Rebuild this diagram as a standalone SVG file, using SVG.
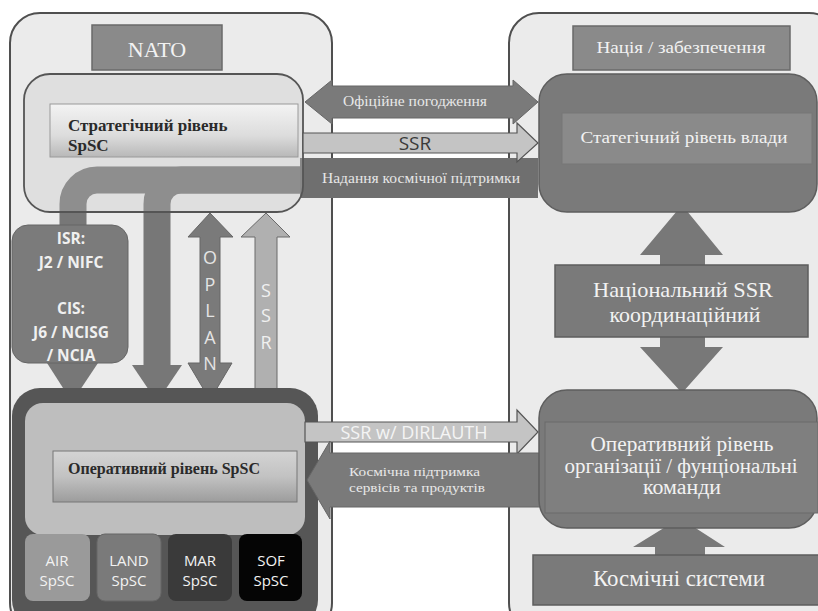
<svg xmlns="http://www.w3.org/2000/svg" width="818" height="611" viewBox="0 0 818 611">
<defs>
<linearGradient id="barLight" x1="0" y1="0" x2="0" y2="1">
<stop offset="0" stop-color="#f3f3f3"/><stop offset="0.6" stop-color="#dcdcdc"/><stop offset="1" stop-color="#b8b8b8"/>
</linearGradient>
<linearGradient id="barOp" x1="0" y1="0" x2="0" y2="1">
<stop offset="0" stop-color="#d4d4d4"/><stop offset="0.5" stop-color="#c2c2c2"/><stop offset="1" stop-color="#9c9c9c"/>
</linearGradient>
<style>
.panel{fill:#ebebeb;stroke:#4f4f4f;stroke-width:2}
.lbl{fill:#8a8a8a;stroke:#6a6a6a;stroke-width:1.5}
.dark{fill:#7a7a7a;stroke:#5e5e5e;stroke-width:1.5}
.arr{fill:#7a7a7a;stroke:#666;stroke-width:1}
.arrL{fill:#c4c4c4;stroke:#555;stroke-width:1.2}
.serif{font-family:"Liberation Serif","Times New Roman",serif}
.sans{font-family:"Open Sans","Liberation Sans",sans-serif}
.w{fill:#f2f2f2}
.k{fill:#2a2a2a}
</style>
</defs>
<rect width="818" height="611" fill="#ffffff"/>

<g id="panel-nato">
<rect class="panel" x="10" y="13" width="322" height="620" rx="30"/>
</g>
<g id="panel-nation">
<rect class="panel" x="509" y="13" width="330" height="620" rx="30"/>
</g>

<g id="nato-label">
<rect class="lbl" x="92" y="25" width="130" height="45"/>
<text class="serif w" x="157" y="57" font-size="22" text-anchor="middle">NATO</text>
</g>
<g id="nation-label">
<rect class="lbl" x="573" y="26" width="217" height="44"/>
<text class="serif w" x="681" y="53" font-size="16" text-anchor="middle" textLength="169" lengthAdjust="spacingAndGlyphs">Нація / забезпечення</text>
</g>

<g id="strategic-spsc-base">
<rect x="24" y="74" width="279" height="138" rx="26" fill="#dedede"/>
</g>

<g id="connectors">
<path d="M 303 180 H 97 A 24 24 0 0 0 73 204 V 366" fill="none" stroke="#777" stroke-width="27"/>
<polygon points="47,363 98,363 72,402" fill="#777"/>
<path d="M 303 180 H 181 A 24 24 0 0 0 157 204 V 366" fill="none" stroke="#777" stroke-width="27"/>
<polygon points="132,365 182,365 157,402" fill="#777"/>
<rect x="300" y="158" width="238" height="40" fill="#6f6f6f"/>
<text class="serif" fill="#e6e6e6" x="421" y="183" font-size="14" text-anchor="middle" textLength="198" lengthAdjust="spacingAndGlyphs">Надання космічної підтримки</text>
</g>

<g id="strategic-spsc">
<rect x="24" y="74" width="279" height="138" rx="26" fill="#e4e4e4" fill-opacity="0.22" stroke="#555" stroke-width="1.8"/>
<rect x="50" y="104" width="248" height="53" fill="url(#barLight)" stroke="#9a9a9a" stroke-width="1"/>
<text class="serif k" x="68" y="131" font-size="17" font-weight="bold">Стратегічний рівень</text>
<text class="serif k" x="68" y="151" font-size="17" font-weight="bold">SpSC</text>
</g>

<g id="connectors-top">
<polygon class="arr" points="305,102 332,80 332,86 513,86 513,80 538,102 513,124 513,118 332,118 332,124"/>
<text class="serif" fill="#e8e8e8" x="415" y="106" font-size="14" text-anchor="middle" textLength="144" lengthAdjust="spacingAndGlyphs">Офіційне погодження</text>
<polygon class="arrL" points="303,133 517,133 517,123 538,143 517,162 517,153 303,153"/>
<text class="sans" fill="#3a3a3a" x="415" y="150" font-size="19" text-anchor="middle">SSR</text>
</g>

<g id="opplan-ssr-arrows">
<polygon class="arr" points="210,213 233,237 220,237 220,363 232,363 210,400 188,363 200,363 200,237 188,237"/>
<g class="sans" fill="#e4e4e4" font-size="18" text-anchor="middle">
<text x="210" y="264">O</text>
<text x="210" y="291">P</text>
<text x="210" y="317">L</text>
<text x="210" y="344">A</text>
<text x="210" y="370">N</text>
</g>
<polygon points="266,213 290,237 277,237 277,404 255,404 255,237 241,237" fill="#b0b0b0" stroke="#6a6a6a" stroke-width="1"/>
<g class="sans" fill="#f0f0f0" font-size="18" text-anchor="middle">
<text x="266" y="297">S</text>
<text x="266" y="322">S</text>
<text x="266" y="349">R</text>
</g>
</g>

<g id="isr-cis">
<rect x="12" y="225" width="116" height="138" rx="16" fill="#7b7b7b" stroke="#666" stroke-width="1"/>
<g class="sans" fill="#f0f0f0" font-size="15.5" font-weight="bold" text-anchor="middle">
<text x="71" y="244">ISR:</text>
<text x="71" y="268">J2 / NIFC</text>
<text x="71" y="314">CIS:</text>
<text x="71" y="338">J6 / NCISG</text>
<text x="71" y="361">/ NCIA</text>
</g>
</g>

<g id="operational-spsc">
<rect x="12" y="388" width="306" height="240" rx="28" fill="#565656"/>
<rect x="25" y="403" width="280" height="132" rx="18" fill="#bebebe"/>
<rect x="53" y="451" width="244" height="51" fill="url(#barOp)" stroke="#777" stroke-width="1"/>
<text class="serif k" x="164" y="474" font-size="16" font-weight="bold" text-anchor="middle" textLength="192" lengthAdjust="spacingAndGlyphs">Оперативний рівень SpSC</text>
</g>
<g id="air-spsc">
<rect x="25" y="534" width="65" height="67" rx="8" fill="#9a9a9a"/>
<text class="sans w" x="57" y="566" font-size="15" text-anchor="middle">AIR</text>
<text class="sans w" x="57" y="586" font-size="15" text-anchor="middle">SpSC</text>
</g>
<g id="land-spsc">
<rect x="97" y="534" width="64" height="67" rx="8" fill="#7a7a7a" stroke="#666" stroke-width="1"/>
<text class="sans w" x="129" y="566" font-size="15" text-anchor="middle">LAND</text>
<text class="sans w" x="129" y="586" font-size="15" text-anchor="middle">SpSC</text>
</g>
<g id="mar-spsc">
<rect x="168" y="534" width="64" height="67" rx="8" fill="#3a3a3a"/>
<text class="sans w" x="200" y="566" font-size="15" text-anchor="middle">MAR</text>
<text class="sans w" x="200" y="586" font-size="15" text-anchor="middle">SpSC</text>
</g>
<g id="sof-spsc">
<rect x="239" y="534" width="63" height="67" rx="8" fill="#050505"/>
<text class="sans w" x="271" y="566" font-size="15" text-anchor="middle">SOF</text>
<text class="sans w" x="271" y="586" font-size="15" text-anchor="middle">SpSC</text>
</g>

<g id="connectors-bottom">
<polygon class="arrL" points="305,422 517,422 517,410 538,432 517,454 517,442 305,442" fill="#c0c0c0"/>
<text class="sans" fill="#f4f4f4" x="414" y="439" font-size="18" text-anchor="middle">SSR w/ DIRLAUTH</text>
<polygon class="arr" points="307,480 330,441 330,453 540,453 540,507 330,507 330,519"/>
<text class="serif" fill="#e8e8e8" x="349" y="476" font-size="12.5" textLength="131" lengthAdjust="spacingAndGlyphs">Космічна підтримка</text>
<text class="serif" fill="#e8e8e8" x="349" y="492" font-size="12.5" textLength="136" lengthAdjust="spacingAndGlyphs">сервісів та продуктів</text>
</g>

<g id="connectors-right">
<polygon points="682,205 723,255 705,255 705,347 723,347 682,393 640,347 660,347 660,255 640,255" fill="#787878"/>
<polygon points="680,518 725,547 705,547 705,558 655,558 655,547 633,547" fill="#787878"/>
</g>

<g id="strategic-power">
<rect class="dark" x="539" y="74" width="278" height="138" rx="28"/>
<rect x="562" y="113" width="250" height="51" fill="#8a8a8a" stroke="#777" stroke-width="1"/>
<text class="serif w" x="684" y="143" font-size="17" text-anchor="middle" textLength="207" lengthAdjust="spacingAndGlyphs">Статегічний рівень влади</text>
</g>

<g id="national-ssr">
<rect class="dark" x="555" y="265" width="253" height="72"/>
<text class="serif w" x="683" y="297" font-size="22" text-anchor="middle" textLength="180" lengthAdjust="spacingAndGlyphs">Національний SSR</text>
<text class="serif w" x="685" y="322" font-size="21" text-anchor="middle" textLength="151" lengthAdjust="spacingAndGlyphs">координаційний</text>
</g>

<g id="operational-org">
<rect class="dark" x="539" y="390" width="278" height="138" rx="28"/>
<rect x="545" y="422" width="273" height="91" fill="#7f7f7f" stroke="#6a6a6a" stroke-width="1"/>
<text class="serif w" x="682" y="451" font-size="20" text-anchor="middle" textLength="183" lengthAdjust="spacingAndGlyphs">Оперативний рівень</text>
<text class="serif w" x="681" y="473" font-size="20" text-anchor="middle" textLength="233" lengthAdjust="spacingAndGlyphs">організації / фунціональні</text>
<text class="serif w" x="682" y="494" font-size="20" text-anchor="middle" textLength="78" lengthAdjust="spacingAndGlyphs">команди</text>
</g>

<g id="space-systems">
<rect class="dark" x="533" y="555" width="290" height="50"/>
<text class="serif w" x="679" y="586" font-size="24" text-anchor="middle" textLength="172" lengthAdjust="spacingAndGlyphs">Космічні системи</text>
</g>
</svg>
